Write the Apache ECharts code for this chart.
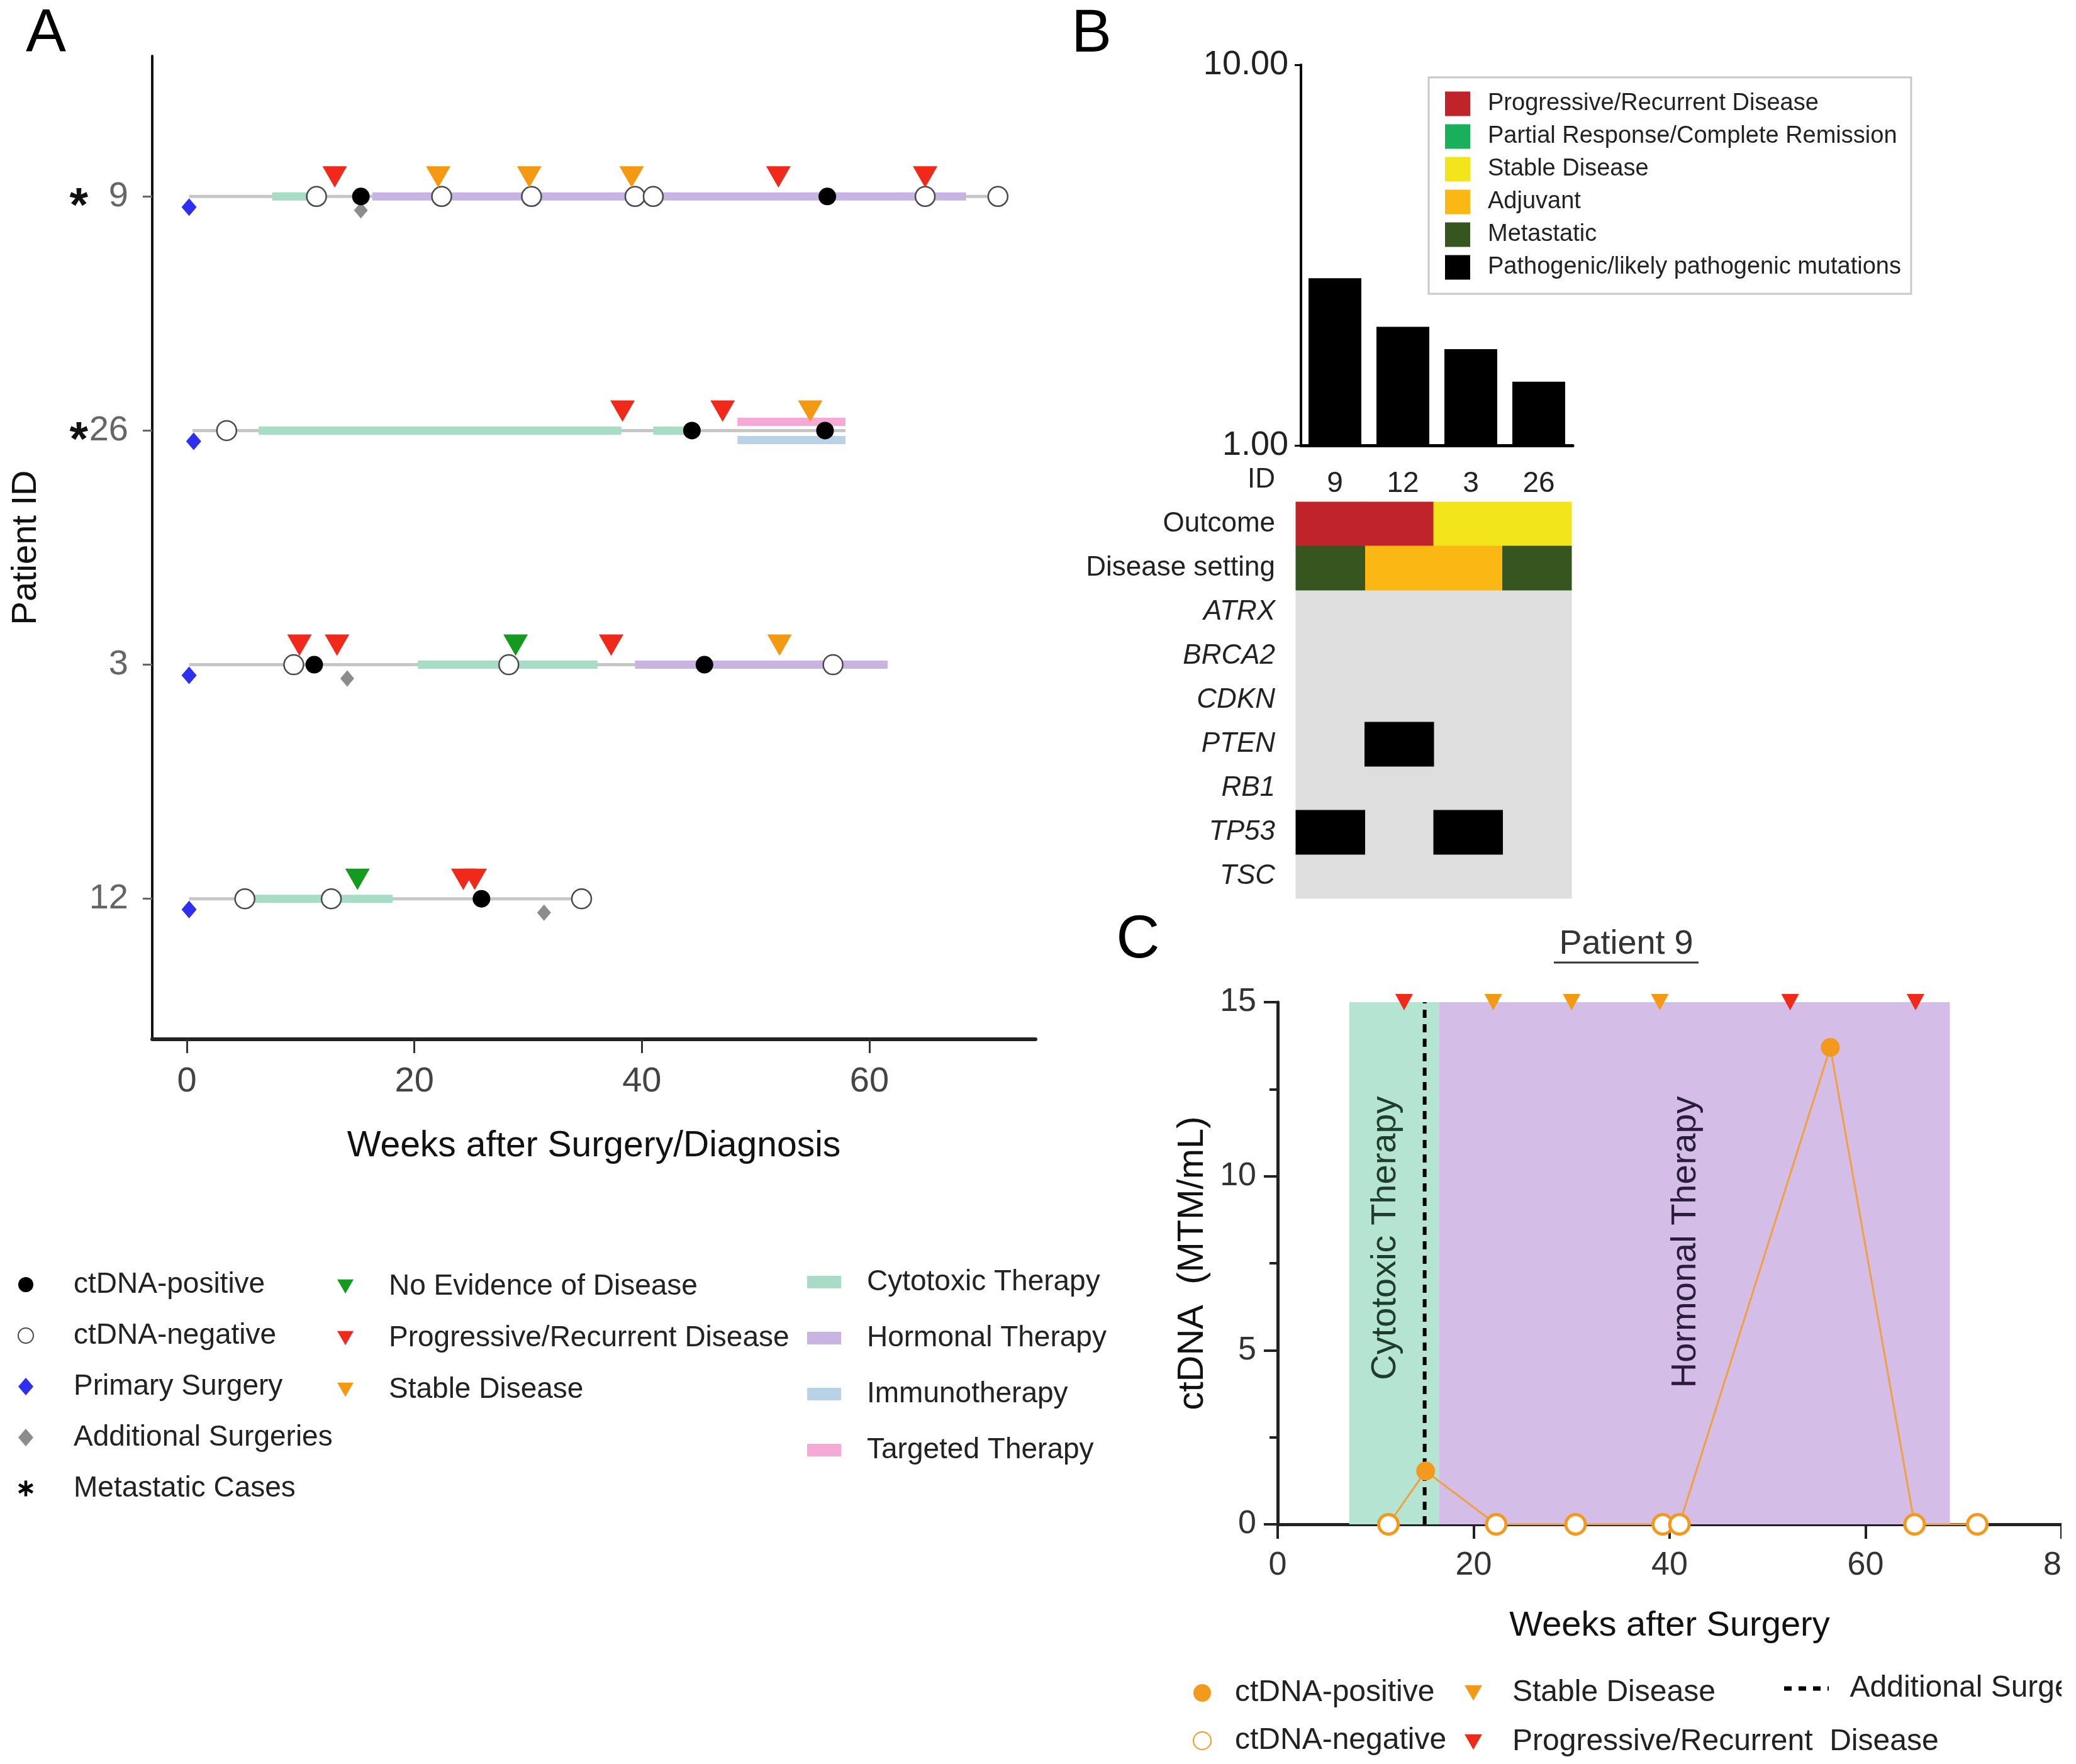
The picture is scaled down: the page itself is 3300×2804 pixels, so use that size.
<!DOCTYPE html>
<html>
<head>
<meta charset="utf-8">
<script src="https://cdn.jsdelivr.net/npm/echarts@6.0.0/dist/echarts.min.js"></script>
<style>
html,body{margin:0;padding:0;background:#ffffff;}
#chart{width:3277px;height:2804px;}
</style>
</head>
<body>
<div id="chart"></div>
<script>
const FONT = '"Liberation Sans", Arial, Helvetica, sans-serif';

/* ---------------- Panel A data ---------------- */
const patientRows = ['12', '3', '26', '9'];          // bottom -> top
const metastaticCases = ['26', '9'];
const weekTicksA = [0, 20, 40, 60];
const followUpA = [['9', 0.2, 71.3], ['26', 0.5, 57.9], ['3', 0.2, 61.6], ['12', 0.2, 34.7]];
const cytotoxicA = [['9', 7.5, 11.5], ['26', 6.3, 38.2], ['26', 41.0, 43.8], ['3', 20.3, 36.1], ['12', 5.9, 18.1]];
const hormonalA = [['9', 16.3, 68.5], ['3', 39.4, 61.6]];
const immunoA = [['26', 48.4, 57.9]];
const targetedA = [['26', 48.4, 57.9]];
const ctdnaPositiveA = [['9', 15.3], ['9', 56.3], ['26', 44.4], ['26', 56.1], ['3', 11.2], ['3', 45.5], ['12', 25.9]];
const ctdnaNegativeA = [['9', 11.4], ['9', 22.4], ['9', 30.3], ['9', 39.4], ['9', 41.0], ['9', 64.9], ['9', 71.3],
  ['26', 3.5], ['3', 9.4], ['3', 28.3], ['3', 56.8], ['12', 5.1], ['12', 12.7], ['12', 34.7]];
const primarySurgeryA = [['9', 0.2], ['26', 0.6], ['3', 0.2], ['12', 0.2]];
const additionalSurgeryA = [['9', 15.3], ['3', 14.1], ['12', 31.4]];
const nedA = [['3', 28.9], ['12', 15.0]];
const progressiveA = [['9', 13.0], ['9', 52.0], ['9', 64.9], ['26', 38.3], ['26', 47.1],
  ['3', 9.9], ['3', 13.2], ['3', 37.3], ['12', 24.3], ['12', 25.3]];
const stableA = [['9', 22.1], ['9', 30.1], ['9', 39.1], ['26', 54.8], ['3', 52.1]];

/* ---------------- Panel B data ---------------- */
const idsB = ['9', '12', '3', '26'];
const burdenB = [2.75, 2.05, 1.79, 1.47];
const heatRowsB = ['ID', 'Outcome', 'Disease setting', 'ATRX', 'BRCA2', 'CDKN', 'PTEN', 'RB1', 'TP53', 'TSC'];
const genesB = ['ATRX', 'BRCA2', 'CDKN', 'PTEN', 'RB1', 'TP53', 'TSC'];
const outcomeB = ['Progressive/Recurrent Disease', 'Progressive/Recurrent Disease', 'Stable Disease', 'Stable Disease'];
const settingB = ['Metastatic', 'Adjuvant', 'Adjuvant', 'Metastatic'];
const mutatedB = [['9', 'TP53'], ['12', 'PTEN'], ['3', 'TP53']];
const legendB = ['Progressive/Recurrent Disease', 'Partial Response/Complete Remission', 'Stable Disease',
  'Adjuvant', 'Metastatic', 'Pathogenic/likely pathogenic mutations'];

/* ---------------- Panel C data ---------------- */
const patientC = '9';
const weeksC = [11.3, 15.1, 22.3, 30.4, 39.3, 41.0, 56.4, 65.0, 71.4];
const ctdnaC = [0, 1.53, 0, 0, 0, 0, 13.7, 0, 0];
const positiveC = [false, true, false, false, false, false, true, false, false];
const therapyC = [['Cytotoxic Therapy', 7.3, 16.5], ['Hormonal Therapy', 16.5, 68.6]];
const surgeryC = 15.0;
const progressiveC = [12.9, 52.3, 65.1];
const stableC = [22.0, 30.0, 39.0];
const yTopC = 15;

/* ---------------- styles ---------------- */
const COL = {
  cyto: '#a9dcc6', horm: '#c8b4e2', immuno: '#b9d2e8', targ: '#f5a9d5', base: '#c6c6c6',
  red: '#f0291a', orange: '#f39a12', green: '#139a1f', blue: '#2f2ff2', grey: '#8c8c8c',
  cytoC: '#b5e4d3', hormC: '#d4bee8', lineC: '#f0a040', ptC: '#f39a1e'
};
const COLB = {
  'Progressive/Recurrent Disease': '#c1232b',
  'Partial Response/Complete Remission': '#18b05a',
  'Stable Disease': '#f3e51b',
  'Adjuvant': '#fbb714',
  'Metastatic': '#37561f',
  'Pathogenic/likely pathogenic mutations': '#000000'
};
const STAR = 'path://M4.1 0L5.9 0L5.9 10L4.1 10Z M8.88 1.72L9.78 3.28L1.12 8.28L0.22 6.72Z M9.78 6.72L8.88 8.28L0.22 3.28L1.12 1.72Z';
const TRI_DOWN = 'path://M0 0L10 0L5 8.7Z';

const rowOf = id => patientRows.indexOf(id);
const ptsA = arr => arr.map(d => [d[1], rowOf(d[0])]);

function bandA(name, data, color, thick, shift, z) {
  return {
    type: 'custom', name, xAxisIndex: 0, yAxisIndex: 0, z,
    itemStyle: { color },
    data: data.map(d => [d[1], d[2], rowOf(d[0])]),
    encode: { x: [0, 1], y: 2 },
    renderItem(params, api) {
      const a = api.coord([api.value(0), api.value(2)]);
      const b = api.coord([api.value(1), api.value(2)]);
      return { type: 'rect', shape: { x: a[0], y: a[1] + shift - thick / 2, width: b[0] - a[0], height: thick },
        style: { fill: color } };
    }
  };
}
function scatterA(name, data, opts) {
  return Object.assign({ type: 'scatter', name, xAxisIndex: 0, yAxisIndex: 0, data: ptsA(data) }, opts);
}
function triA(name, data, color) {
  return scatterA(name, data, { symbol: TRI_DOWN, symbolSize: [39, 34],
    symbolOffset: [0, -31], itemStyle: { color, opacity: 1 }, z: 7 });
}

/* heatmap cells */
function cellsFor(cat) {
  const out = [];
  outcomeB.forEach((o, i) => { if (o === cat) out.push([i, heatRowsB.indexOf('Outcome')]); });
  settingB.forEach((s, i) => { if (s === cat) out.push([i, heatRowsB.indexOf('Disease setting')]); });
  if (cat === 'Pathogenic/likely pathogenic mutations') {
    mutatedB.forEach(m => out.push([idsB.indexOf(m[0]), heatRowsB.indexOf(m[1])]));
  }
  return out;
}
function cellSeries(name, cells, color, z) {
  return {
    type: 'custom', name, xAxisIndex: 3, yAxisIndex: 3, z,
    itemStyle: { color },
    data: cells,
    encode: { x: 0, y: 1 },
    renderItem(params, api) {
      const c = api.coord([api.value(0), api.value(1)]);
      const s = api.size([1, 1]);
      return { type: 'rect', shape: { x: c[0] - s[0] / 2 - 0.5, y: c[1] - s[1] / 2 - 0.5, width: s[0] + 1, height: s[1] + 1 },
        style: { fill: color } };
    }
  };
}
const greyCells = [];
genesB.forEach(g => idsB.forEach((id, i) => greyCells.push([i, heatRowsB.indexOf(g)])));

/* legend helper */
function legendCol(names, iconCx, textX, firstCy, step, iw, ih, fs, extra) {
  const lh = Math.round(fs * 1.15);
  const h = Math.max(lh, ih);
  return Object.assign({
    orient: 'vertical', left: iconCx - iw / 2, top: firstCy - h / 2, padding: 0,
    itemWidth: iw, itemHeight: ih, itemGap: step - h, selectedMode: false, data: names,
    formatter: n => n.replace(/^[BC]:/, ''),
    textStyle: { fontSize: fs, lineHeight: lh, color: '#222', fontFamily: FONT, padding: [0, 0, 0, textX - iconCx - iw / 2 - 5] }
  }, extra || {});
}

const series = [
  /* ---- Panel A ---- */
  bandA('Follow-up', followUpA, COL.base, 5, 0, 1),
  bandA('Cytotoxic Therapy', cytotoxicA, COL.cyto, 13, 0, 2),
  bandA('Hormonal Therapy', hormonalA, COL.horm, 13, 0, 2),
  bandA('Immunotherapy', immunoA, COL.immuno, 13, 15, 2),
  bandA('Targeted Therapy', targetedA, COL.targ, 13, -14, 2),
  scatterA('Primary Surgery', primarySurgeryA, { symbol: 'diamond', symbolSize: [24, 28], symbolOffset: [0, 17], itemStyle: { color: COL.blue, opacity: 1 }, z: 4 }),
  scatterA('Additional Surgeries', additionalSurgeryA, { symbol: 'diamond', symbolSize: [22, 26], symbolOffset: [0, 22], itemStyle: { color: COL.grey, opacity: 1 }, z: 4 }),
  scatterA('ctDNA-negative', ctdnaNegativeA, { symbol: 'circle', symbolSize: 31, itemStyle: { color: '#ffffff', borderColor: '#4a4a4a', borderWidth: 2.5, opacity: 1 }, z: 5 }),
  scatterA('ctDNA-positive', ctdnaPositiveA, { symbol: 'circle', symbolSize: 28, itemStyle: { color: '#000000', opacity: 1 }, z: 5 }),
  triA('No Evidence of Disease', nedA, COL.green),
  triA('Progressive/Recurrent Disease', progressiveA, COL.red),
  triA('Stable Disease', stableA, COL.orange),
  scatterA('Metastatic Cases', [], { symbol: STAR, symbolSize: 26, itemStyle: { color: '#000', opacity: 1 } }),

  /* ---- Panel B ---- */
  { type: 'bar', name: 'B:burden', xAxisIndex: 1, yAxisIndex: 1, data: burdenB, barWidth: 84,
    itemStyle: { color: '#000' }, z: 2 },
  cellSeries('B:none', greyCells, '#dedede', 1),
].concat(legendB.map(c => cellSeries('B:' + c, cellsFor(c), COLB[c], 2))).concat([

  /* ---- Panel C ---- */
  {
    type: 'custom', name: 'C:therapy', xAxisIndex: 2, yAxisIndex: 2, z: 1,
    data: therapyC.map(t => [t[1], t[2], t[0]]),
    encode: { x: [0, 1] },
    renderItem(params, api) {
      const name = therapyC[params.dataIndex][0];
      const a = api.coord([api.value(0), yTopC]);
      const b = api.coord([api.value(1), 0]);
      const fill = name.indexOf('Cytotoxic') === 0 ? COL.cytoC : COL.hormC;
      const tcol = name.indexOf('Cytotoxic') === 0 ? '#1f3d2c' : '#2a1d3c';
      return { type: 'group', children: [
        { type: 'rect', shape: { x: a[0], y: a[1], width: b[0] - a[0], height: b[1] - a[1] }, style: { fill } },
        { type: 'text', x: (a[0] + b[0]) / 2 - 14, y: a[1] + (b[1] - a[1]) * 0.18, rotation: Math.PI / 2,
          style: { text: name, fontSize: 56, fontFamily: FONT, fill: tcol, align: 'right', verticalAlign: 'middle' } }
      ] };
    }
  },
  { type: 'line', name: 'C:Additional Surgery', xAxisIndex: 2, yAxisIndex: 2, z: 3,
    data: [[surgeryC, 0], [surgeryC, yTopC]], symbol: 'none', showSymbol: false,
    lineStyle: { color: '#000', width: 6, type: [13, 10] }, itemStyle: { color: '#000' } },
  { type: 'line', name: 'C:trend', xAxisIndex: 2, yAxisIndex: 2, z: 4,
    data: weeksC.map((w, i) => [w, ctdnaC[i]]), symbol: 'none',
    lineStyle: { color: COL.lineC, width: 3 } },
  { type: 'scatter', name: 'C:ctDNA-positive', xAxisIndex: 2, yAxisIndex: 2, z: 5,
    data: weeksC.map((w, i) => [w, ctdnaC[i]]).filter((d, i) => positiveC[i]),
    symbol: 'circle', symbolSize: 30, itemStyle: { color: COL.ptC, opacity: 1 } },
  { type: 'scatter', name: 'C:ctDNA-negative', xAxisIndex: 2, yAxisIndex: 2, z: 5,
    data: weeksC.map((w, i) => [w, ctdnaC[i]]).filter((d, i) => !positiveC[i]),
    symbol: 'circle', symbolSize: 31, itemStyle: { color: '#ffffff', borderColor: COL.ptC, borderWidth: 5, opacity: 1 } },
  { type: 'scatter', name: 'C:Stable Disease', xAxisIndex: 2, yAxisIndex: 2, z: 6,
    data: stableC.map(w => [w, yTopC]), symbol: TRI_DOWN, symbolSize: [28, 26],
    itemStyle: { color: COL.orange, opacity: 1 } },
  { type: 'scatter', name: 'C:Progressive/Recurrent  Disease', xAxisIndex: 2, yAxisIndex: 2, z: 6,
    data: progressiveC.map(w => [w, yTopC]), symbol: TRI_DOWN, symbolSize: [28, 26],
    itemStyle: { color: COL.red, opacity: 1 } }
]);

const axisName = { fontSize: 56, color: '#111', fontFamily: FONT };

const option = {
  backgroundColor: '#ffffff',
  animation: false,
  textStyle: { fontFamily: FONT },
  grid: [
    { left: 242, top: 89, width: 1404, height: 1563, containLabel: false, outerBoundsMode: 'none' },
    { left: 2068, top: 103, width: 432, height: 605, containLabel: false, outerBoundsMode: 'none' },
    { left: 2031, top: 1593, width: 1246, height: 830, containLabel: false, outerBoundsMode: 'none' },
    { left: 2060, top: 728, width: 438, height: 700, containLabel: false, outerBoundsMode: 'none' }
  ],
  xAxis: [
    { gridIndex: 0, type: 'value', min: -3.04, max: 74.6,
      axisLine: { show: true, onZero: false, lineStyle: { color: '#222', width: 6 } },
      axisTick: { show: true, customValues: weekTicksA, length: 22, lineStyle: { color: '#333', width: 3 } },
      axisLabel: { customValues: weekTicksA, fontSize: 56, color: '#444', margin: 40, fontFamily: FONT },
      splitLine: { show: false },
      name: 'Weeks after Surgery/Diagnosis', nameLocation: 'middle', nameGap: 142,
      nameTextStyle: { fontSize: 57, color: '#111', fontFamily: FONT } },
    { gridIndex: 1, type: 'category', data: idsB, boundaryGap: true,
      axisLine: { show: true, onZero: false, lineStyle: { color: '#000', width: 5 } },
      axisTick: { show: false },
      axisLabel: { fontSize: 46, color: '#222', margin: 38, fontFamily: FONT } },
    { gridIndex: 2, type: 'value', min: 0, max: 80, interval: 20,
      axisLine: { show: true, onZero: false, lineStyle: { color: '#222', width: 5 } },
      axisTick: { show: true, length: 23, lineStyle: { color: '#222', width: 4 } },
      axisLabel: { fontSize: 52, color: '#333', margin: 40, fontFamily: FONT },
      splitLine: { show: false },
      name: 'Weeks after Surgery', nameLocation: 'middle', nameGap: 134, nameTextStyle: axisName },
    { gridIndex: 3, type: 'category', data: idsB, show: false }
  ],
  yAxis: [
    { gridIndex: 0, type: 'value', min: -0.6, max: 3.6,
      axisLine: { show: true, onZero: false, lineStyle: { color: '#111', width: 4 } },
      axisTick: { show: true, customValues: [0, 1, 2, 3], length: 15, lineStyle: { color: '#666', width: 3 } },
      axisLabel: { customValues: [0, 1, 2, 3], margin: 38,
        formatter: v => {
          const id = patientRows[v];
          return metastaticCases.indexOf(id) >= 0 ? '{s|*}{n|' + id + '}' : '{n|' + id + '}';
        },
        rich: {
          s: { fontSize: 76, fontWeight: 'bold', color: '#111', fontFamily: FONT, padding: [36, 0, 0, 0] },
          n: { fontSize: 56, color: '#666', fontFamily: FONT, width: 64, align: 'right' }
        } },
      splitLine: { show: false },
      name: 'Patient ID', nameLocation: 'middle', nameGap: 172, nameTextStyle: axisName },
    { gridIndex: 1, type: 'log', logBase: 10, min: 1, max: 10,
      axisLine: { show: true, onZero: false, lineStyle: { color: '#000', width: 4 } },
      axisTick: { show: true, length: 10, lineStyle: { color: '#000', width: 3 } },
      axisLabel: { fontSize: 54, color: '#222', margin: 20, fontFamily: FONT, formatter: v => Number(v).toFixed(2) },
      splitLine: { show: false }, minorTick: { show: false } },
    { gridIndex: 2, type: 'value', min: 0, max: 15, interval: 5,
      axisLine: { show: true, onZero: false, lineStyle: { color: '#222', width: 5 } },
      axisTick: { show: true, length: 22, lineStyle: { color: '#222', width: 4 } },
      minorTick: { show: true, splitNumber: 2, length: 13, lineStyle: { color: '#222', width: 4 } },
      axisLabel: { fontSize: 52, color: '#333', margin: 34, fontFamily: FONT },
      splitLine: { show: false }, minorSplitLine: { show: false },
      name: 'ctDNA  (MTM/mL)', nameLocation: 'middle', nameGap: 106, nameTextStyle: { fontSize: 58, color: '#111', fontFamily: FONT } },
    { gridIndex: 3, type: 'category', data: heatRowsB, inverse: true,
      axisLine: { show: false }, axisTick: { show: false },
      axisLabel: { margin: 33, fontSize: 44, color: '#222', fontFamily: FONT,
        formatter: v => genesB.indexOf(v) >= 0 ? '{i|' + v + '}' : v,
        rich: { i: { fontStyle: 'italic', fontSize: 44, color: '#222', fontFamily: FONT } } },
      splitLine: { show: false } }
  ],
  legend: [
    legendCol(['ctDNA-positive', 'ctDNA-negative', 'Primary Surgery', 'Additional Surgeries', 'Metastatic Cases'],
      40, 116, 2042, 81, 24, 28, 46),
    legendCol(['No Evidence of Disease', 'Progressive/Recurrent Disease', 'Stable Disease'],
      549, 618, 2045, 82, 26, 24, 46),
    legendCol(['Cytotoxic Therapy', 'Hormonal Therapy', 'Immunotherapy', 'Targeted Therapy'],
      1310, 1378, 2038, 89, 54, 20, 46, { icon: 'rect' }),
    Object.assign(legendCol(legendB.map(c => 'B:' + c), 2317, 2365, 163, 52, 40, 39, 38, { icon: 'rect' }), {
      left: 2271, top: 123, padding: [20, 16, 20, 26], borderColor: '#c8c8c8', borderWidth: 3
    }),
    legendCol(['C:ctDNA-positive', 'C:ctDNA-negative'], 1910, 1962, 2691, 76, 28, 28, 48),
    legendCol(['C:Stable Disease', 'C:Progressive/Recurrent  Disease'], 2342, 2404, 2691, 78, 28, 28, 48),
    legendCol([{ name: 'C:Additional Surgery', itemStyle: { color: 'rgba(0,0,0,0)', borderWidth: 0, opacity: 0 } }],
      2868, 2937, 2684, 76, 71, 20, 48, { lineStyle: { color: '#000', width: 7, type: [12, 11] } })
  ],
  graphic: [
    { type: 'text', x: 73, y: 55, style: { text: 'A', fontSize: 96, fontFamily: FONT, fill: '#000', align: 'center', verticalAlign: 'middle' } },
    { type: 'text', x: 1735, y: 56, style: { text: 'B', fontSize: 96, fontFamily: FONT, fill: '#000', align: 'center', verticalAlign: 'middle' } },
    { type: 'text', x: 1809, y: 1496, style: { text: 'C', fontSize: 96, fontFamily: FONT, fill: '#000', align: 'center', verticalAlign: 'middle' } },
    { type: 'text', x: 2585, y: 1501, style: { text: 'Patient ' + patientC, fontSize: 54, fontFamily: FONT, fill: '#333', align: 'center', verticalAlign: 'middle' } },
    { type: 'line', shape: { x1: 2470, y1: 1530, x2: 2700, y2: 1530 }, style: { stroke: '#333', lineWidth: 3 } }
  ],
  series
};

const chart = echarts.init(document.getElementById('chart'), null, { renderer: 'canvas' });
chart.setOption(option);
</script>
</body>
</html>
